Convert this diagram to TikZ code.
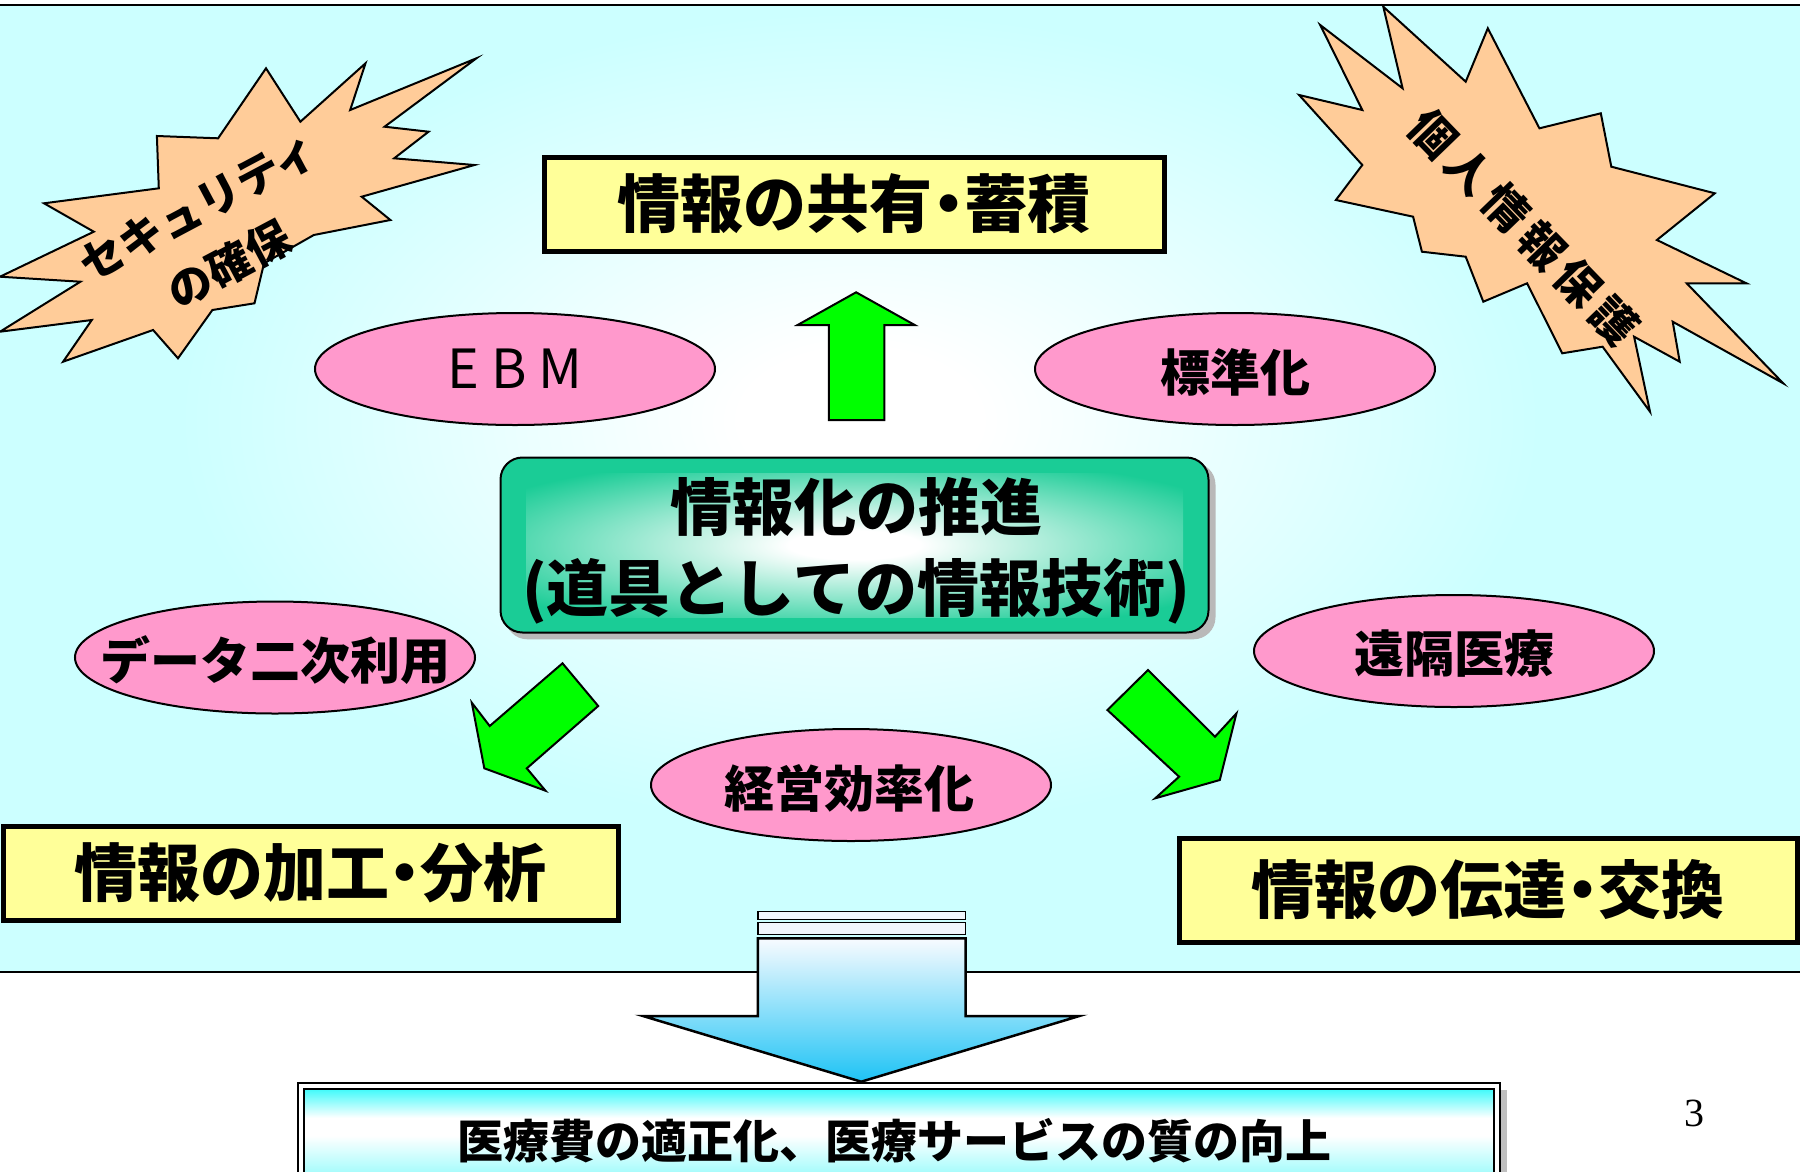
\documentclass[tikz,border=0pt]{standalone}
\usepackage{fontspec}
\setmainfont{Liberation Serif}
\newfontfamily\jp{Noto Sans CJK JP}
\usetikzlibrary{shapes.geometric}
\definecolor{bgc}{HTML}{CCFFFF}
\definecolor{ylw}{HTML}{FFFF99}
\definecolor{pnk}{HTML}{FF99CC}
\definecolor{pch}{HTML}{FFCC99}
\definecolor{grn}{HTML}{00FF00}
\definecolor{boxg}{RGB}{26,204,150}
\definecolor{skyb}{RGB}{30,195,245}
\definecolor{arrtop}{RGB}{248,251,255}
\definecolor{cyb}{RGB}{64,250,250}
\definecolor{cybl}{RGB}{170,252,252}
\definecolor{stripe}{RGB}{240,246,252}
\pgfdeclareradialshading{panelglow}{\pgfpoint{0bp}{0bp}}{color(0bp)=(white); color(3bp)=(white); color(17bp)=(bgc); color(50bp)=(bgc)}
\pgfdeclareradialshading{boxglow}{\pgfpoint{0bp}{0bp}}{color(0bp)=(white); color(5bp)=(white); color(32bp)=(boxg); color(50bp)=(boxg)}
\pgfdeclareverticalshading{arrowgrad}{100bp}{color(0bp)=(skyb); color(25bp)=(skyb); color(75bp)=(arrtop); color(100bp)=(arrtop)}
\pgfdeclareverticalshading{bottomgrad}{100bp}{color(0bp)=(cyb); color(38bp)=(cybl); color(54bp)=(white); color(62bp)=(white); color(75bp)=(cyb); color(100bp)=(cyb)}
\begin{document}
\begin{tikzpicture}[x=1pt,y=-1pt,
  burst/.style={draw=black, line width=2, fill=pch, line join=miter},
  ybox/.style={rectangle, draw=black, line width=5, fill=ylw, inner sep=0, font=\jp\bfseries\fontsize{63}{70}\selectfont},
  pell/.style={ellipse, draw=black, line width=2, fill=pnk, minimum width=400, minimum height=112, inner sep=0},
  etext/.style={inner sep=0, font=\jp\bfseries\fontsize{50}{56}\selectfont},
  garrow/.style={draw=black, line width=2, fill=grn, line join=miter}]
\useasboundingbox (0,0) rectangle (1800,1171);
\fill[white] (0,0) rectangle (1800,1171);
% panel
\fill[bgc] (0,5) rectangle (1800,972);
\begin{scope}
\clip (0,5) rectangle (1800,972);
\shade[shading=panelglow] (-140,-180) rectangle (1860,1020);
\end{scope}
\draw[line width=2.5] (0,5) -- (1800,5);
\draw[line width=2.5] (0,972) -- (1800,972);
% left starburst
\draw[burst] (476.4,58.3) -- (350.2,110) -- (365.5,63.3) -- (300.4,121.7) -- (266,68.3) -- (218.1,138.3) -- (156.9,136) -- (158.8,188.3) -- (44,203.3) -- (93.8,231.7) -- (0,276.7) -- (80.4,281.7) -- (0,331.7) -- (91.8,320) -- (63.1,361.7) -- (153.1,330) -- (178,358.3) -- (212.4,310) -- (254.5,303.3) -- (264,263.3) -- (313.8,235) -- (390.4,220) -- (361.7,196.7) -- (474.5,165) -- (394.2,158.3) -- (428.6,131.7) -- (384.6,126.7) -- cycle;
\node[rotate=28, align=center, inner sep=0, font=\jp\bfseries\fontsize{44}{66}\selectfont] (sectext) at (214,236) {セキュリティ\\の確保};
% right starburst
\draw[burst] (1383.3,6.7) -- (1465.7,81.7) -- (1487.8,28.3) -- (1539.4,128.3) -- (1600.8,113.3) -- (1611.3,166.7) -- (1714.8,193.3) -- (1656.9,240) -- (1746.4,283.3) -- (1686.7,283.3) -- (1783.2,383.3) -- (1672.7,321.7) -- (1679.7,361.7) -- (1634.1,336.7) -- (1650,411.7) -- (1602.6,346.7) -- (1562.2,353.3) -- (1527.1,283.3) -- (1483.3,301.7) -- (1465.7,256.7) -- (1421.9,251.7) -- (1413.1,216.7) -- (1335.9,200) -- (1362.3,165) -- (1299.1,95) -- (1362.3,110) -- (1320.2,25) -- (1402.6,88.3) -- cycle;
\node[rotate=-46, inner sep=0, font=\jp\bfseries\fontsize{45}{50}\selectfont] (privtext) at (1524,227) {個\kern7pt人\kern7pt情\kern7pt報\kern7pt保\kern7pt護};
% top box
\node[ybox, minimum width=620, minimum height=94] (share) at (854,204) {情報の共有\kern-0.25em・\kern-0.25em蓄積};
% up arrow
\draw[garrow] (856.1,292.3) -- (914.7,325) -- (884.3,325) -- (884.3,420) -- (828.8,420) -- (828.8,325) -- (797.6,325) -- cycle;
% ellipses
\node[pell] (ebm) at (515,369) {};
\node[etext, font=\jp\fontsize{54}{60}\selectfont] (ebmtext) at (ebm) {E\kern12pt B\kern12pt M};
\node[pell] (std) at (1235,369) {};
\node[etext] (stdtext) at (1235,372) {標準化};
\node[pell] (data) at (275,657.5) {};
\node[etext] (datatext) at (275,660) {データ二次利用};
\node[pell] (tele) at (1454,651) {};
\node[etext] (teletext) at (1454,654) {遠隔医療};
\node[pell] (mgmt) at (851,785) {};
\node[etext] (mgmttext) at (849,788) {経営効率化};
% center box
\fill[gray!55, rounded corners=22] (505.4,462.7) rectangle (1215.5,639.3);
\node[rectangle, rounded corners=22, draw=black, line width=2, fill=boxg, minimum width=708, minimum height=175, inner sep=0] (core) at (854.5,545) {};
\shade[shading=boxglow] (526,473) rectangle (1183,617);
\node[align=center, inner sep=0, font=\jp\bfseries\fontsize{62}{81}\selectfont] (coretext) at (856,551) {情報化の推進\\(道具としての情報技術)};
% diagonal arrows
\draw[garrow] (562.5,663.3) -- (598.2,706) -- (526.8,768.3) -- (545.5,790.7) -- (484.3,768.3) -- (471.8,702.7) -- (489.7,726) -- cycle;
\draw[garrow] (1148,670) -- (1215,736.7) -- (1236.5,713.3) -- (1219.8,780) -- (1155.2,798.3) -- (1179.1,776.7) -- (1107.4,710) -- cycle;
% lower boxes
\node[ybox, minimum width=615, minimum height=94] (proc) at (310.5,873) {情報の加工\kern-0.25em・\kern-0.25em分析};
\node[ybox, minimum width=618, minimum height=104] (trans) at (1488,890) {情報の伝達\kern-0.25em・\kern-0.25em交換};
% big down arrow
\filldraw[fill=stripe, draw=black, line width=1.5] (757.9,911.7) rectangle (965.6,919.3);
\filldraw[fill=stripe, draw=black, line width=1.5] (757.9,922.3) rectangle (965.6,934.3);
\shade[shading=arrowgrad, draw=black, line width=2.5, line join=miter] (757.9,938.3) -- (965.6,938.3) -- (965.6,1016) -- (1079.3,1016) -- (861.2,1081.7) -- (643,1016) -- (757.9,1016) -- cycle;
% bottom box
\fill[gray!50] (1501,1090) rectangle (1507,1200);
\filldraw[fill=white, draw=black, line width=2] (298,1083.3) rectangle (1500,1200);
\shade[shading=bottomgrad, draw=black, line width=2] (304,1089) rectangle (1494,1200);
\node[inner sep=0, font=\jp\bfseries\fontsize{46}{50}\selectfont] (goal) at (894,1141) {医療費の適正化、医療サービスの質の向上};
% page number
\node[inner sep=0, font=\fontsize{40}{44}\selectfont] (pnum) at (1694,1113) {3};
\end{tikzpicture}
\end{document}
